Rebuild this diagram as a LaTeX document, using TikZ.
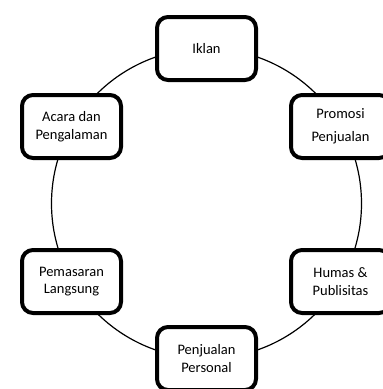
\documentclass[tikz,border=0pt]{standalone}
\usepackage{fontspec}
\setmainfont{Carlito}
\tikzstyle{ring}=[line width=1.2pt]
\tikzstyle{tool}=[draw, fill=white, line width=4pt, rounded corners=11pt, minimum width=99pt, minimum height=63pt, inner sep=0pt, align=center, font=\fontsize{14.5}{17.5}\selectfont]

\begin{document}
\begin{tikzpicture}[x=1pt, y=-1pt]
\clip (0,0) rectangle (383,389);
\useasboundingbox (0,0) rectangle (383,389);

\draw (206.5,203.5) circle (155pt) [ring];

\draw (206.5,48.5) node (iklan) [tool] {Iklan};
\draw (340.5,126.5) node (promosi) [tool] {Promosi\\[6pt]Penjualan};
\draw (340.5,281.5) node (humas) [tool] {Humas \&\\Publisitas};
\draw (206.5,358.5) node (personal) [tool] {Penjualan\\Personal};
\draw (71.5,281.5) node (langsung) [tool] {Pemasaran\\Langsung};
\draw (71.5,126.5) node (acara) [tool] {Acara dan\\Pengalaman};

\end{tikzpicture}
\end{document}
